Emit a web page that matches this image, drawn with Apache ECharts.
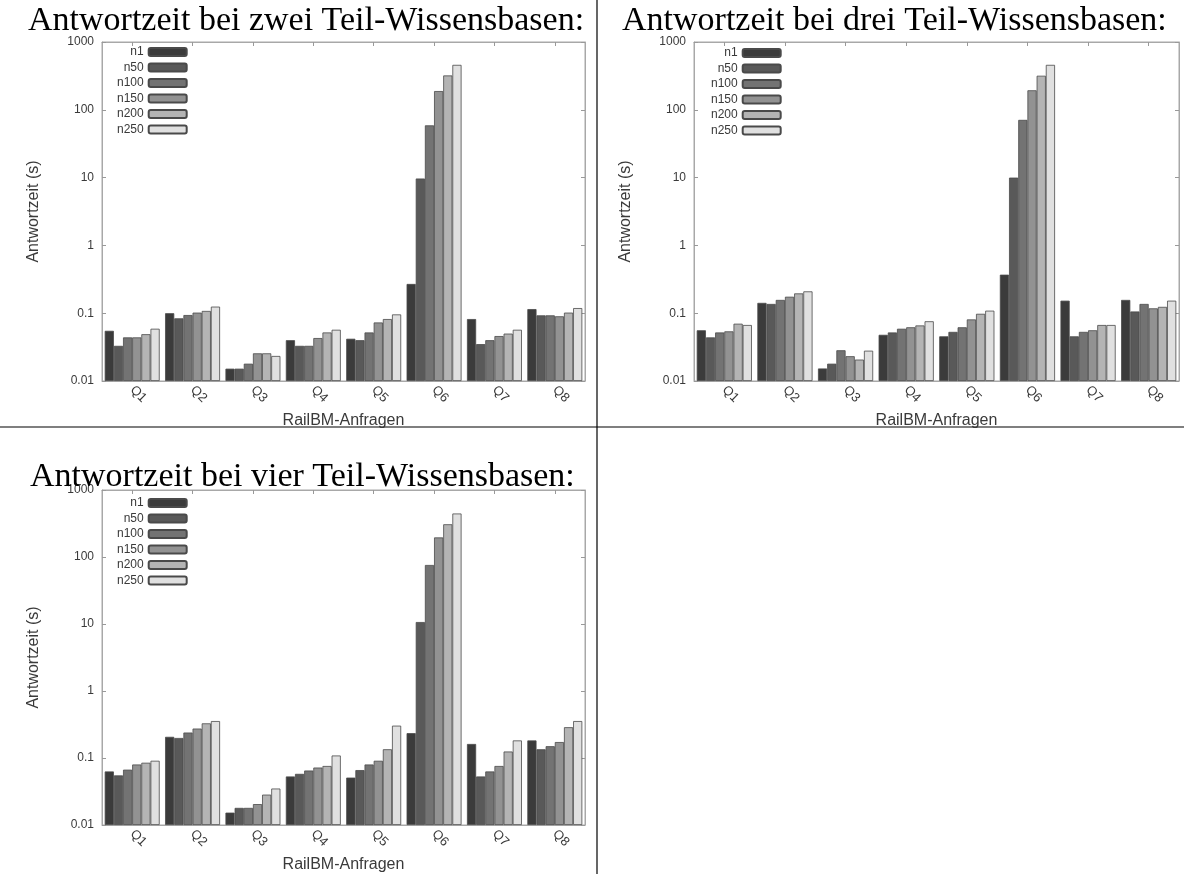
<!DOCTYPE html>
<html>
<head>
<meta charset="utf-8">
<script src="https://cdn.jsdelivr.net/npm/echarts@6/dist/echarts.min.js"></script>
<style>
html, body { margin: 0; padding: 0; background: #fff; }
#main { width: 1184px; height: 874px; }
</style>
</head>
<body>
<div id="main"></div>
<script>
// RailBM queries and variants
var categories = ['Q1', 'Q2', 'Q3', 'Q4', 'Q5', 'Q6', 'Q7', 'Q8'];
var seriesNames = ['n1', 'n50', 'n100', 'n150', 'n200', 'n250'];
var yTicks = [0.01, 0.1, 1, 10, 100, 1000];

// response times (s), one row per series, one value per query
var zweiTeil = [
    [0.055, 0.100, 0.0152, 0.040, 0.042, 0.27, 0.082, 0.115],
    [0.033, 0.084, 0.0152, 0.033, 0.040, 9.7, 0.035, 0.093],
    [0.044, 0.094, 0.018, 0.033, 0.052, 59, 0.040, 0.093],
    [0.044, 0.102, 0.0256, 0.043, 0.073, 189, 0.046, 0.090],
    [0.049, 0.108, 0.0256, 0.052, 0.082, 321, 0.050, 0.102],
    [0.059, 0.125, 0.0234, 0.057, 0.096, 460, 0.057, 0.119]
];
var dreiTeil = [
    [0.056, 0.142, 0.0153, 0.048, 0.0456, 0.37, 0.153, 0.157],
    [0.044, 0.137, 0.018, 0.052, 0.053, 10, 0.0456, 0.106],
    [0.052, 0.157, 0.0284, 0.059, 0.062, 71, 0.053, 0.137],
    [0.054, 0.175, 0.0232, 0.062, 0.081, 194, 0.056, 0.118],
    [0.070, 0.196, 0.0207, 0.066, 0.098, 318, 0.067, 0.124],
    [0.067, 0.210, 0.028, 0.076, 0.109, 460, 0.067, 0.153]
];
var vierTeil = [
    [0.063, 0.207, 0.0153, 0.053, 0.051, 0.235, 0.162, 0.183],
    [0.055, 0.199, 0.018, 0.058, 0.066, 10.7, 0.053, 0.135],
    [0.067, 0.240, 0.018, 0.065, 0.080, 76, 0.063, 0.150],
    [0.080, 0.275, 0.0205, 0.072, 0.091, 196, 0.076, 0.173],
    [0.085, 0.329, 0.0284, 0.076, 0.135, 308, 0.125, 0.288],
    [0.091, 0.356, 0.035, 0.109, 0.304, 446, 0.183, 0.356]
];
var titles = [
    'Antwortzeit bei zwei Teil-Wissensbasen:',
    'Antwortzeit bei drei Teil-Wissensbasen:',
    'Antwortzeit bei vier Teil-Wissensbasen:'
];

var barColors = ['#3b3b3b', '#595959', '#737373', '#929292', '#b4b4b4', '#e0e0e0'];
var sans = '"Liberation Sans", Arial, sans-serif';
var serif = '"Liberation Serif", "Times New Roman", serif';
var labelColor = '#3a3a3a';

var panels = [
    {rows: zweiTeil, grid: {left: 102, top: 42, width: 483, height: 339}, title: {left: 28, top: 4}, legend: {left: 117, top: 46}},
    {rows: dreiTeil, grid: {left: 694, top: 42, width: 485, height: 339}, title: {left: 622, top: 4}, legend: {left: 711, top: 47}},
    {rows: vierTeil, grid: {left: 102, top: 490, width: 483, height: 342}, title: {left: 30, top: 460}, legend: {left: 117, top: 497}}
];

function tickLabel(v) {
    if (v >= 1) return String(Math.round(v));
    return String(+v.toPrecision(1));
}

var option = {
    animation: false,
    backgroundColor: '#fff',
    title: [],
    legend: [],
    grid: [],
    xAxis: [],
    yAxis: [],
    series: [],
    graphic: [
        {type: 'line', shape: {x1: 597, y1: 0, x2: 597, y2: 874}, style: {stroke: '#000', lineWidth: 1.2}},
        {type: 'line', shape: {x1: 0, y1: 427, x2: 1184, y2: 427}, style: {stroke: '#000', lineWidth: 1.2}}
    ]
};

panels.forEach(function (p, i) {
    option.title.push({
        text: titles[i],
        left: p.title.left,
        top: p.title.top,
        padding: 0,
        textStyle: {fontFamily: serif, fontSize: 34, fontWeight: 'normal', color: '#000'}
    });
    option.legend.push({
        data: seriesNames,
        orient: 'vertical',
        left: p.legend.left,
        top: p.legend.top,
        align: 'right',
        itemWidth: 38,
        itemHeight: 8,
        itemGap: 3.5,
        padding: 0,
        selectedMode: false,
        textStyle: {fontFamily: sans, fontSize: 12, color: labelColor}
    });
    option.grid.push({
        left: p.grid.left, top: p.grid.top, width: p.grid.width, height: p.grid.height,
        show: true, borderColor: '#a8a8a8', borderWidth: 1
    });
    // bottom category axis
    option.xAxis.push({
        type: 'category',
        gridIndex: i,
        data: categories,
        name: 'RailBM-Anfragen',
        nameLocation: 'middle',
        nameGap: 32,
        nameTextStyle: {fontFamily: sans, fontSize: 16, color: labelColor},
        axisLine: {lineStyle: {color: '#a8a8a8'}},
        axisTick: {show: false},
        axisLabel: {rotate: -45, margin: 7, fontFamily: sans, fontSize: 13, color: labelColor}
    });
    // top axis, ticks only
    option.xAxis.push({
        type: 'category',
        gridIndex: i,
        position: 'top',
        data: categories,
        axisLine: {lineStyle: {color: '#a8a8a8'}},
        axisTick: {show: true, inside: true, alignWithLabel: true, length: 4, lineStyle: {color: '#999'}},
        axisLabel: {show: false}
    });
    option.yAxis.push({
        type: 'log',
        gridIndex: i,
        min: yTicks[0],
        max: yTicks[yTicks.length - 1],
        startValue: yTicks[0],
        logBase: 10,
        name: 'Antwortzeit (s)',
        nameLocation: 'middle',
        nameGap: 60,
        nameTextStyle: {fontFamily: sans, fontSize: 16, color: labelColor},
        axisLine: {show: true, lineStyle: {color: '#a8a8a8'}},
        axisTick: {show: true, inside: true, length: 4, lineStyle: {color: '#999'}},
        splitLine: {show: false},
        axisLabel: {fontFamily: sans, fontSize: 12, color: labelColor, margin: 8, formatter: tickLabel}
    });
    option.yAxis.push({
        type: 'log',
        gridIndex: i,
        position: 'right',
        min: yTicks[0],
        max: yTicks[yTicks.length - 1],
        logBase: 10,
        axisLine: {show: true, lineStyle: {color: '#a8a8a8'}},
        axisTick: {show: true, inside: true, length: 4, lineStyle: {color: '#999'}},
        splitLine: {show: false},
        axisLabel: {show: false}
    });
    seriesNames.forEach(function (name, k) {
        option.series.push({
            name: name,
            type: 'bar',
            xAxisIndex: i * 2,
            yAxisIndex: i * 2,
            data: p.rows[k],
            barGap: '0%',
            barCategoryGap: '9%',
            itemStyle: {color: barColors[k], borderColor: '#4a4a4a', borderWidth: 0.8}
        });
    });
});

var chart = echarts.init(document.getElementById('main'));
chart.setOption(option);
</script>
</body>
</html>
